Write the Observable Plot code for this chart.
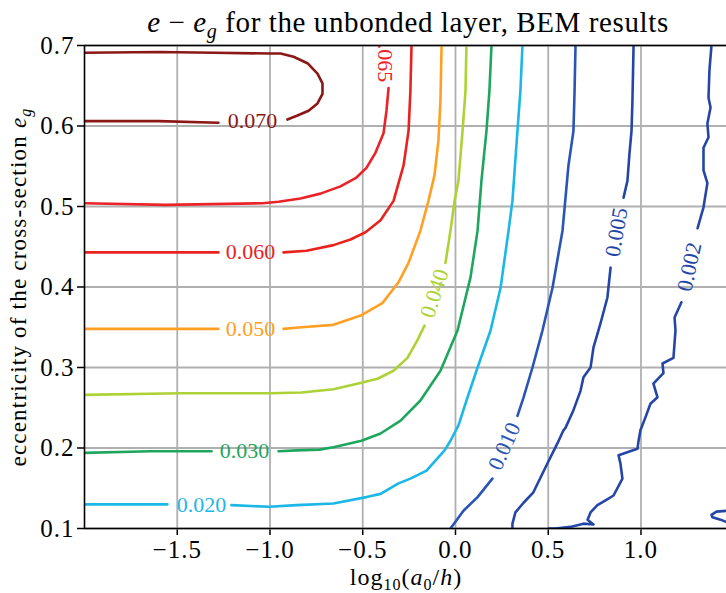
<!DOCTYPE html>
<html><head><meta charset="utf-8">
<script src="https://cdn.jsdelivr.net/npm/d3@7"></script>
<script src="https://cdn.jsdelivr.net/npm/@observablehq/plot@0.6"></script>
<style>
body{margin:0;background:#fff}
svg{display:block}
</style>
</head><body><div id="chart"></div>
<script>
// ---- data ----
const xTicks = [-1.5, -1.0, -0.5, 0.0, 0.5, 1.0];
const yTicks = [0.1, 0.2, 0.3, 0.4, 0.5, 0.6, 0.7];
const levels = ["0.070", "0.065", "0.060", "0.050", "0.040", "0.030", "0.020", "0.010", "0.005", "0.002"];
const colors = ["#8b1717", "#ea2328", "#e8231f", "#ffa024", "#aed235", "#1fa65e", "#1bb7e6", "#2a55b4", "#2546a6", "#2546a6"];

// contour polylines [log10(a0/h), e_g]; null = gap left for an inline label
const c070 = [[-2.0,0.691],[-1.6,0.692],[-1.3,0.691],[-1.0,0.690],[-0.943,0.690],[-0.873,0.686],[-0.798,0.678],[-0.744,0.665],[-0.717,0.653],[-0.717,0.640],[-0.744,0.628],[-0.792,0.619],[-0.852,0.613],[-0.906,0.608],null,[-1.278,0.604],[-1.6,0.606],[-2.0,0.606]];
const c065 = [[-0.361,0.647],[-0.372,0.619],[-0.388,0.591],[-0.431,0.567],[-0.480,0.548],[-0.534,0.536],[-0.620,0.525],[-0.728,0.516],[-0.836,0.510],[-0.954,0.506],[-1.040,0.504],[-1.563,0.502],[-2.0,0.504]];
const c060 = [[-0.237,0.700],[-0.243,0.644],[-0.253,0.594],[-0.280,0.551],[-0.334,0.507],[-0.404,0.483],[-0.485,0.468],[-0.566,0.459],[-0.658,0.452],[-0.803,0.445],[-0.927,0.443],null,[-1.278,0.443],[-1.563,0.443],[-2.0,0.443]];
const c050 = [[-0.075,0.700],[-0.081,0.632],[-0.092,0.582],[-0.113,0.539],[-0.146,0.507],[-0.189,0.470],[-0.253,0.430],[-0.307,0.406],[-0.394,0.380],[-0.507,0.365],[-0.658,0.353],[-0.830,0.350],[-0.927,0.348],null,[-1.278,0.348],[-1.6,0.348],[-2.0,0.348]];
const c040 = [[0.059,0.700],[0.054,0.644],[0.038,0.594],[0.016,0.532],[-0.005,0.507],[-0.027,0.470],[-0.054,0.430],null,[-0.167,0.352],[-0.205,0.334],[-0.259,0.312],[-0.334,0.296],[-0.420,0.286],[-0.507,0.281],[-0.658,0.273],[-0.830,0.269],[-1.003,0.268],[-1.482,0.268],[-2.0,0.266]];
const c030 = [[0.194,0.700],[0.183,0.644],[0.167,0.594],[0.140,0.532],[0.119,0.470],[0.081,0.412],[0.011,0.346],[-0.081,0.296],[-0.189,0.259],[-0.296,0.234],[-0.404,0.218],[-0.507,0.209],[-0.658,0.201],[-0.733,0.198],[-0.857,0.197],[-0.954,0.196],null,[-1.315,0.196],[-1.644,0.196],[-2.0,0.194]];
const c020 = [[0.361,0.700],[0.350,0.644],[0.334,0.594],[0.307,0.507],[0.286,0.470],[0.243,0.399],[0.189,0.346],[0.119,0.300],[0.065,0.263],[0.016,0.228],[-0.027,0.209],[-0.059,0.197],[-0.156,0.172],[-0.243,0.162],[-0.307,0.156],[-0.404,0.143],[-0.480,0.139],[-0.658,0.131],[-0.857,0.129],[-1.003,0.127],[-1.208,0.129],null,[-1.553,0.130],[-1.806,0.130],[-2.0,0.130]];
const c010 = [[0.647,0.700],[0.642,0.644],[0.636,0.594],[0.609,0.551],[0.577,0.470],[0.523,0.399],[0.469,0.346],[0.415,0.300],[0.367,0.263],[0.334,0.240],null,[0.199,0.162],[0.119,0.139],[0.043,0.122],[-0.027,0.100]];
const c005 = [[0.960,0.700],[0.954,0.632],[0.949,0.594],[0.938,0.566],[0.927,0.532],[0.906,0.511],null,[0.836,0.424],[0.819,0.387],[0.782,0.355],[0.744,0.325],[0.728,0.300],[0.690,0.288],[0.674,0.271],[0.636,0.247],[0.593,0.225],[0.582,0.222],[0.550,0.206],[0.496,0.181],[0.458,0.163],[0.420,0.145],[0.367,0.132],[0.323,0.120],[0.307,0.106],[0.307,0.100]];
const c002 = [[1.380,0.700],[1.369,0.669],[1.364,0.635],[1.375,0.623],[1.358,0.603],[1.364,0.586],[1.337,0.573],[1.337,0.545],[1.358,0.529],[1.337,0.499],[1.321,0.486],[1.305,0.473],null,[1.218,0.381],[1.181,0.362],[1.186,0.346],[1.175,0.312],[1.116,0.305],[1.121,0.293],[1.067,0.280],[1.089,0.263],[1.051,0.255],[1.024,0.238],[0.997,0.222],[0.987,0.209],[0.981,0.199],[0.879,0.191],[0.889,0.181],[0.900,0.162],[0.852,0.141],[0.809,0.135],[0.765,0.129],[0.728,0.120],[0.712,0.111],[0.744,0.105],[0.690,0.106],[0.620,0.102],[0.539,0.100],[0.501,0.100]];
const c002b = [[1.461,0.122],[1.407,0.121],[1.380,0.117],[1.385,0.114],[1.429,0.111],[1.461,0.108]];

// inline contour labels
const labelText = ["0.070", "0.065", "0.060", "0.050", "0.040", "0.030", "0.020", "0.010", "0.005", "0.002"];
const labelX = [-1.094, -0.38, -1.105, -1.105, -0.113, -1.137, -1.369, 0.264, 0.868, 1.261];
const labelY = [0.606, 0.685, 0.443, 0.348, 0.392, 0.196, 0.129, 0.202, 0.468, 0.425];
const labelRot = [0, 90, 0, 0, -72, 0, 0, -66, -80, -78];

// ---- build tables ----
const series = [
  {level: "0.070", seg: "a070", pts: c070},
  {level: "0.065", seg: "a065", pts: c065},
  {level: "0.060", seg: "a060", pts: c060},
  {level: "0.050", seg: "a050", pts: c050},
  {level: "0.040", seg: "a040", pts: c040},
  {level: "0.030", seg: "a030", pts: c030},
  {level: "0.020", seg: "a020", pts: c020},
  {level: "0.010", seg: "a010", pts: c010},
  {level: "0.005", seg: "a005", pts: c005},
  {level: "0.002", seg: "a002", pts: c002},
  {level: "0.002", seg: "b002", pts: c002b}
];
const rows = [];
series.forEach(s => s.pts.forEach(p => rows.push({level: s.level, seg: s.seg, x: p ? p[0] : NaN, y: p ? p[1] : NaN})));
const labels = labelText.map((t, i) => ({level: t, x: labelX[i], y: labelY[i], rot: labelRot[i]}));

const fmt = d3.format(".1f");
const chart = Plot.plot({
  width: 726, height: 593,
  marginLeft: 84, marginRight: 0, marginTop: 45, marginBottom: 65,
  style: {fontFamily: "'Liberation Serif', serif", fontSize: "25px", letterSpacing: "1px", background: "white", color: "black", overflow: "visible"},
  x: {domain: [-2, 1.461], ticks: xTicks, tickFormat: fmt, tickSize: 7, tickPadding: 5, label: null},
  y: {domain: [0.1, 0.7], ticks: yTicks, tickFormat: fmt, tickSize: 7, tickPadding: 3, label: null},
  color: {domain: levels, range: colors},
  marks: [
    Plot.ruleX(xTicks, {stroke: "#b0b0b0", strokeWidth: 1.8}),
    Plot.ruleY(yTicks, {stroke: "#b0b0b0", strokeWidth: 1.8}),
    Plot.line(rows, {x: "x", y: "y", z: "seg", stroke: "level", strokeWidth: 2.6, clip: true}),
    Plot.text(labels, {x: "x", y: "y", text: "level", rotate: "rot", fill: "level", fontSize: 22, clip: true}),
    Plot.ruleX([-2], {stroke: "black", strokeWidth: 1.6}),
    Plot.ruleY([0.1, 0.7], {stroke: "black", strokeWidth: 1.6})
  ]
});
document.getElementById("chart").appendChild(chart);

const svg = d3.select(chart);
svg.selectAll("g[aria-label$='tick']").attr("stroke-width", 1.5);
svg.selectAll("g[aria-label='text'] text").style("letter-spacing", "0px");
svg.append("text").attr("x", 408).attr("y", 32).attr("text-anchor", "middle")
  .style("font-size", "29px").style("letter-spacing", "0.6px").attr("fill", "black")
  .html('<tspan font-style="italic">e</tspan> − <tspan font-style="italic">e</tspan><tspan font-style="italic" font-size="20px" dy="6">g</tspan><tspan dy="-6"> for the unbonded layer, BEM results</tspan>');
svg.append("text").attr("transform", "translate(26,287) rotate(-90)").attr("text-anchor", "middle")
  .style("font-size", "23px").style("letter-spacing", "1.2px").attr("fill", "black")
  .html('eccentricity of the cross-section <tspan font-style="italic">e</tspan><tspan font-style="italic" font-size="16px" dy="5">g</tspan>');
svg.append("text").attr("x", 406).attr("y", 585).attr("text-anchor", "middle")
  .style("font-size", "24px").style("letter-spacing", "1px").attr("fill", "black")
  .html('log<tspan font-size="16px" dy="5">10</tspan><tspan dy="-5">(</tspan><tspan font-style="italic">a</tspan><tspan font-size="16px" dy="5">0</tspan><tspan dy="-5">/</tspan><tspan font-style="italic">h</tspan>)');
</script>
</body></html>
